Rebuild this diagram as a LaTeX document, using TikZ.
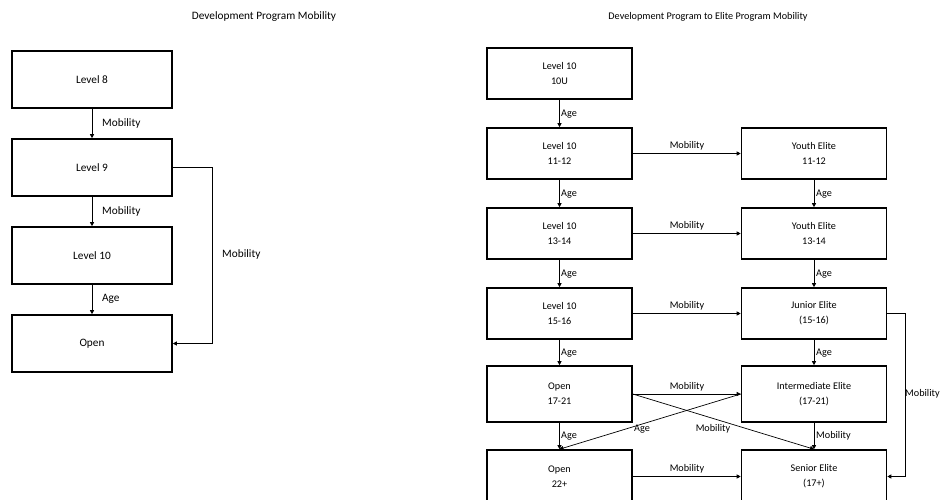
\documentclass[tikz,border=0pt]{standalone}
\usepackage{fontspec}
\setmainfont{Carlito}
\usetikzlibrary{arrows.meta,calc}
\begin{document}
\begin{tikzpicture}[x=1pt,y=-1pt,
 boxL/.style={draw,line width=1.6pt,minimum width=160pt,minimum height=57pt,inner sep=0pt,font=\fontsize{11.3}{13}\selectfont},
 boxR/.style={draw,line width=1.6pt,minimum width=145pt,minimum height=51pt,inner sep=0pt,align=center,font=\fontsize{10.2}{15}\selectfont},
 arr/.style={line width=0.7pt,-{Triangle[length=4pt,width=4pt]}},
 lblL/.style={font=\fontsize{11.3}{13}\selectfont,inner sep=0pt},
 lblR/.style={font=\fontsize{10.2}{12}\selectfont,inner sep=0pt},
 ttl/.style={inner sep=0pt},
]
\useasboundingbox[fill=white] (0,0) rectangle (950,500);
% titles
\node[ttl,font=\fontsize{11.3}{13}\selectfont] (t1) at (264,17) {Development Program Mobility};
\node[ttl,font=\fontsize{10.2}{12}\selectfont] (t2) at (708,17) {Development Program to Elite Program Mobility};
% left panel
\node[boxL] (l8) at (92,79.5) {Level 8};
\node[boxL] (l9) at (92,167.5) {Level 9};
\node[boxL] (l10) at (92,255.5) {Level 10};
\node[boxL] (lo) at (92,343.5) {Open};
\draw[arr] (l8) -- (l9);
\draw[arr] (l9) -- (l10);
\draw[arr] (l10) -- (lo);
\draw[arr] (l9.east) -- ++(40,0) |- (lo.east);
\node[lblL,anchor=west] (lm1) at (102,123) {Mobility};
\node[lblL,anchor=west] (lm2) at (102,211) {Mobility};
\node[lblL,anchor=west] (la1) at (102,299) {Age};
\node[lblL,anchor=west] (lm3) at (222,254) {Mobility};
% right panel
\node[boxR] (a1) at (559.5,73.5) {Level 10\\10U};
\node[boxR] (a2) at (559.5,153.5) {Level 10\\11-12};
\node[boxR] (a3) at (559.5,233.5) {Level 10\\13-14};
\node[boxR] (a4) at (559.5,313.5) {Level 10\\15-16};
\node[boxR,minimum height=56pt] (a5) at (559.5,394) {Open\\17-21};
\node[boxR,minimum height=53pt] (a6) at (559.5,476.5) {Open\\22+};
\node[boxR] (b2) at (814,153.5) {Youth Elite\\11-12};
\node[boxR] (b3) at (814,233.5) {Youth Elite\\13-14};
\node[boxR] (b4) at (814,313.5) {Junior Elite\\(15-16)};
\node[boxR,minimum height=56pt] (b5) at (814,394) {Intermediate Elite\\(17-21)};
\node[boxR,minimum height=53pt] (b6) at (814,476.5) {Senior Elite\\(17+)};
% vertical arrows
\draw[arr] (a1) -- (a2);
\draw[arr] (a2) -- (a3);
\draw[arr] (a3) -- (a4);
\draw[arr] (a4) -- (a5);
\draw[arr] (a5) -- (a6);
\draw[arr] (b2) -- (b3);
\draw[arr] (b3) -- (b4);
\draw[arr] (b4) -- (b5);
\draw[arr] (b5) -- (b6);
\node[lblR,anchor=west] (ag1) at (561,114) {Age};
\node[lblR,anchor=west] (ag2) at (561,194) {Age};
\node[lblR,anchor=west] (ag3) at (561,274) {Age};
\node[lblR,anchor=west] (ag4) at (561,353) {Age};
\node[lblR,anchor=west] (ag5) at (561,436) {Age};
\node[lblR,anchor=west] (bg2) at (816,194) {Age};
\node[lblR,anchor=west] (bg3) at (816,274) {Age};
\node[lblR,anchor=west] (bg4) at (816,353) {Age};
\node[lblR,anchor=west] (bm5) at (816,436) {Mobility};
% horizontal arrows
\draw[arr] (a2) -- (b2);
\draw[arr] (a3) -- (b3);
\draw[arr] (a4) -- (b4);
\draw[arr] (a5) -- (b5);
\draw[arr] (a6) -- (b6);
\node[lblR] (hm2) at (687,146) {Mobility};
\node[lblR] (hm3) at (687,226) {Mobility};
\node[lblR] (hm4) at (687,306) {Mobility};
\node[lblR] (hm5) at (687,387) {Mobility};
\node[lblR] (hm6) at (687,469) {Mobility};
% diagonals
\draw[arr] (b5.west) -- (a6.north);
\draw[arr] (a5.east) -- (b6.north);
\node[lblR] (dg1) at (642,429) {Age};
\node[lblR] (dm1) at (713,429) {Mobility};
% loop
\draw[arr] (b4.east) -- ++(18,0) |- (b6.east);
\node[lblR,anchor=west] (lpm) at (905,394) {Mobility};
\end{tikzpicture}
\end{document}
